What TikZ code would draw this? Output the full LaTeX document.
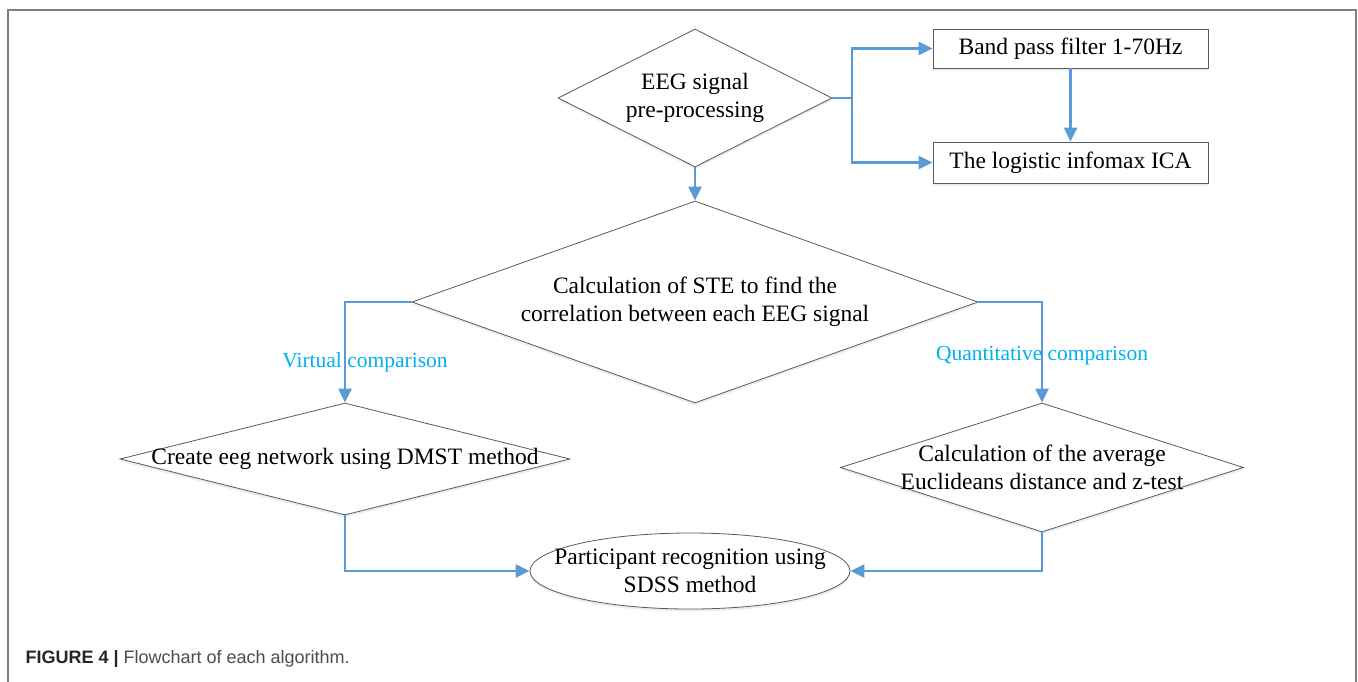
\documentclass[tikz,border=0pt]{standalone}
\usepackage{fontspec}
\setmainfont{Liberation Serif}
\setsansfont{Liberation Sans}
\usepackage{xcolor}
\usetikzlibrary{shapes.geometric}
\usetikzlibrary{arrows.meta}
\usetikzlibrary{shadows}
\usetikzlibrary{positioning}
\definecolor{Linie}{HTML}{5B9BD5}
\definecolor{Hinweis}{HTML}{00B0F0}
\definecolor{Rand}{HTML}{5A5A5A}
\tikzset{
  Flow/.style={draw=Linie, line width=2.2pt, ->}, % connectors
  Shape/.style={draw=Rand, line width=.8pt, fill=white, inner sep=0pt,
    drop shadow={shadow xshift=0pt, shadow yshift=-2.5pt, fill=Linie!35, opacity=.45}},
  Decision/.style={Shape, diamond},
  Box/.style={Shape, rectangle, minimum width=275pt},
  Oval/.style={Shape, ellipse},
  Txt/.style={align=center, font=\fontsize{23.5}{28}\selectfont},
  Note/.style={text=Hinweis, font=\fontsize{21.5}{26}\selectfont}
}

\begin{document}
\begin{tikzpicture}[x=1pt, y=-1pt,
>={Triangle[length=14pt,width=13pt]} % arrow tips
]
\useasboundingbox (0,0) rectangle (1358,681);
\clip (0,0) rectangle (1358,681);

%Frame
\draw[gray, line width=2pt] (8,10) rectangle (1356,730);

%Shapes
\node[Decision, minimum width=274pt, minimum height=138pt] (pre) at (695,98) {};
\node[Box, minimum height=39pt, Txt] (bpf) at (1070.5,48.5) {Band pass filter 1-70Hz};
\node[Box, minimum height=41pt, Txt] (ica) at (1070.5,162.5) {The logistic infomax ICA};
\node[Decision, minimum width=566pt, minimum height=202pt] (ste) at (695,302) {};
\node[Decision, minimum width=450pt, minimum height=112pt] (dmst) at (345,459) {};
\node[Decision, minimum width=403pt, minimum height=129pt] (euc) at (1042,467.5) {};
\node[Oval, minimum width=320pt, minimum height=76pt] (sdss) at (690,571) {};

%Texts
\node[Txt] (pre-t) at (pre) {EEG signal\\pre-processing};
\node[Txt] (ste-t) at (ste) {Calculation of STE to find the\\correlation between each EEG signal};
\node[Txt] (dmst-t) at (dmst) {Create eeg network using DMST method};
\node[Txt] (euc-t) at (euc) {Calculation of the average\\Euclideans distance and z-test};
\node[Txt] (sdss-t) at (sdss) {Participant recognition using\\SDSS method};

%Connectors
\coordinate (split) at (852,98);
\draw[Flow] (pre.east) -- (split) |- (bpf.west);
\draw[Flow] (split) |- (ica.west);
\draw[Flow] (bpf.south) -- (ica.north);
\draw[Flow] (pre.south) -- (ste.north);
\draw[Flow] (ste.west) -| (dmst.north);
\draw[Flow] (ste.east) -| (euc.north);
\draw[Flow] (dmst.south) |- (sdss.west);
\draw[Flow] (euc.south) |- (sdss.east);

\node[Note] (vc) at (365,362) {Virtual comparison};
\node[Note] (qc) at (1042,356) {Quantitative comparison};

%Caption
\node[anchor=base west, font=\sffamily\fontsize{18}{22}\selectfont, text=black!70] (cap) at (22,663)
  {\textcolor{black!85}{\bfseries FIGURE 4 |} Flowchart of each algorithm.};
\end{tikzpicture}
\end{document}
